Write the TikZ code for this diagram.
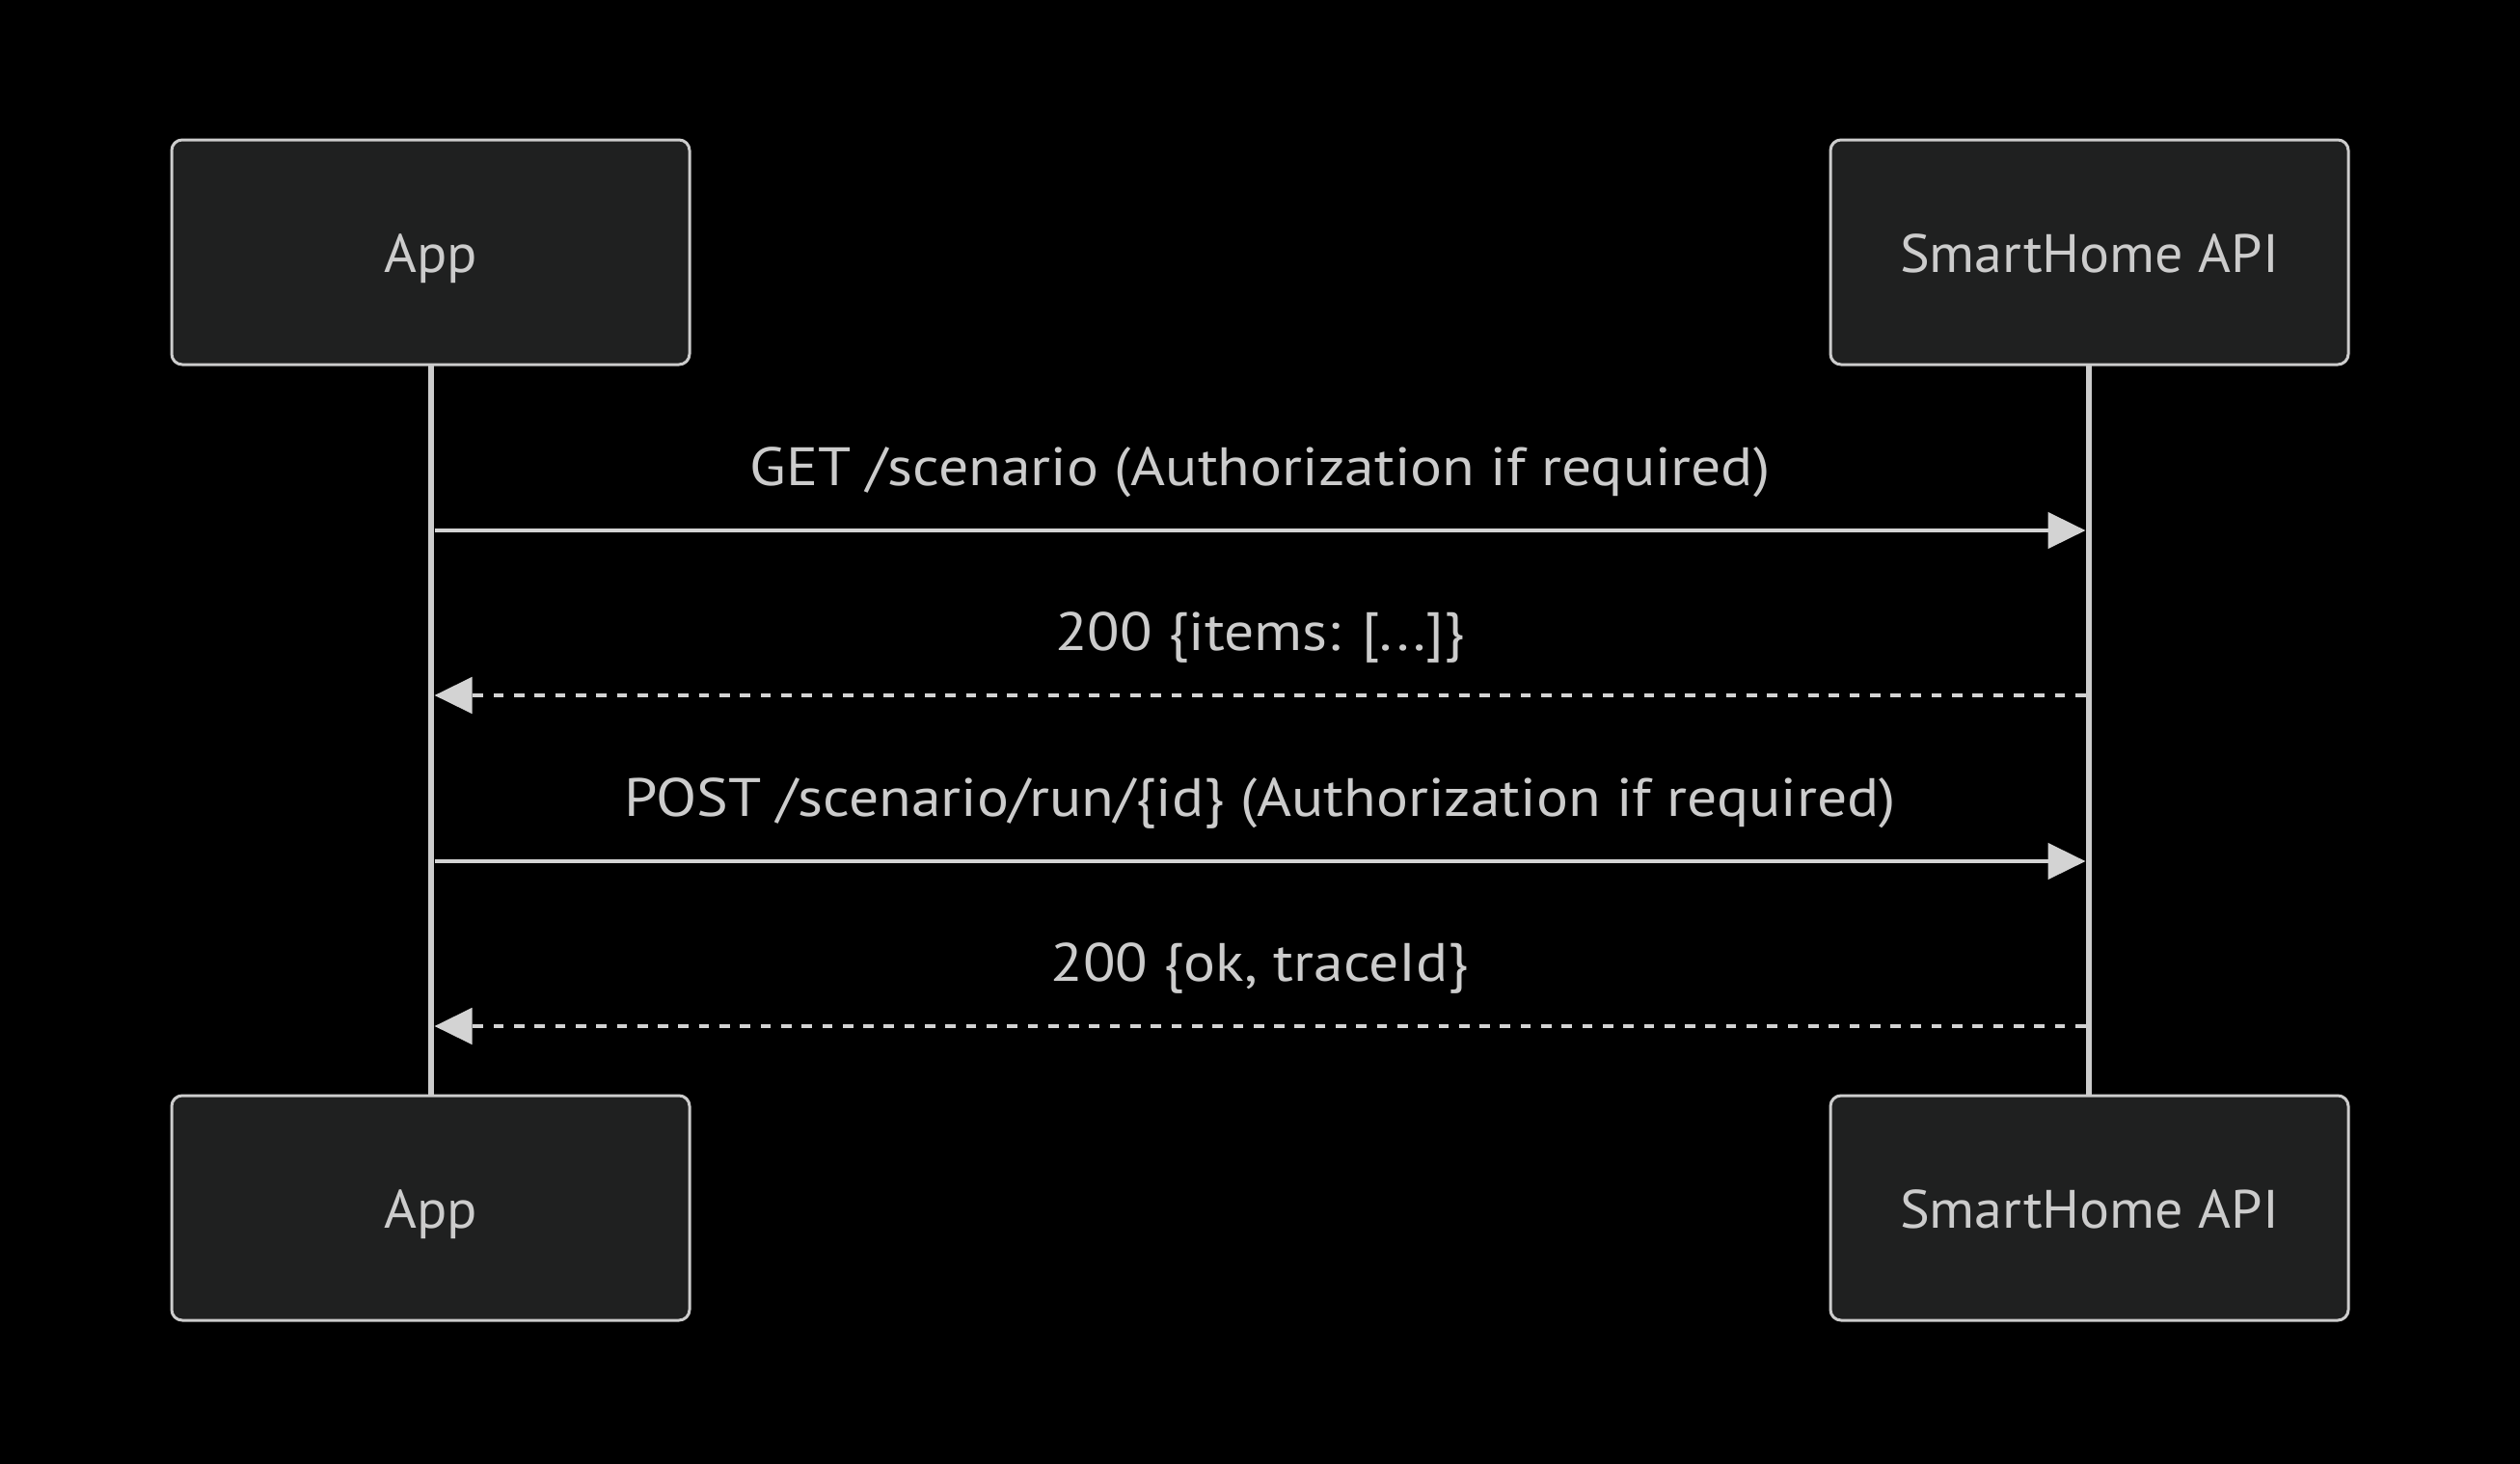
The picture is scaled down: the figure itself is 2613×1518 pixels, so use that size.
\documentclass[tikz,border=0pt]{standalone}
\usepackage{fontspec}
\setmainfont{PT Sans}
\newfontfamily\actorfont{PT Sans}[FakeStretch=1.035]
\newfontfamily\msgfont{PT Sans}[FakeStretch=1.10]
\usetikzlibrary{arrows.meta}
\definecolor{bg}{HTML}{000000}
\definecolor{boxfill}{HTML}{1F2020}
\definecolor{boxline}{HTML}{CCCCCC}
\definecolor{txt}{HTML}{CCCCCC}
\definecolor{msg}{HTML}{D3D3D3}
\tikzset{
  actor/.style={draw=boxline, fill=boxfill, line width=3pt, rounded corners=11pt,
    minimum width=537pt, minimum height=233pt, inner sep=0pt, text=txt,
    text height=54pt, text depth=12pt,
    font=\actorfont\fontsize{56}{67}\selectfont},
  lifeline/.style={draw=boxline, line width=6.5pt},
  msgline/.style={draw=msg, line width=4.7pt, -{Triangle[length=39pt,width=37pt]}},
  reply/.style={msgline, dash pattern=on 10.7pt off 10.6pt},
  msglabel/.style={text=txt, inner sep=0pt, font=\msgfont\fontsize{56}{67}\selectfont, anchor=base}
}
\begin{document}
\begin{tikzpicture}[x=1pt,y=-1pt]
\fill[bg] (0,0) rectangle (2613,1518);
\useasboundingbox (0,0) rectangle (2613,1518);
% lifelines first
\coordinate (appL) at (447,378);
\coordinate (appLb) at (447,1137);
\coordinate (apiL) at (2166,378);
\coordinate (apiLb) at (2166,1137);
\draw[lifeline] (appL) -- (appLb);
\draw[lifeline] (apiL) -- (apiLb);
% actors
\node[actor] (appTop) at (446.5,261.5) {App};
\node[actor] (apiTop) at (2166.5,261.5) {SmartHome API};
\node[actor] (appBot) at (446.5,1252.5) {App};
\node[actor] (apiBot) at (2166.5,1252.5) {SmartHome API};
% message end points
\coordinate (m1s) at (450.5,550);
\coordinate (m1e) at (2162.5,550);
\coordinate (m2s) at (2162.5,721);
\coordinate (m2e) at (450.5,721);
\coordinate (m3s) at (450.5,893);
\coordinate (m3e) at (2162.5,893);
\coordinate (m4s) at (2162.5,1064);
\coordinate (m4e) at (450.5,1064);
\draw[msgline] (m1s) -- (m1e);
\draw[reply] (m2s) -- (m2e);
\draw[msgline] (m3s) -- (m3e);
\draw[reply] (m4s) -- (m4e);
% labels
\node[msglabel] (l1) at (1306.5,503) {GET /scenario (Authorization if required)};
\node[msglabel] (l2) at (1306.5,674) {200 \{items: [...]\}};
\node[msglabel] (l3) at (1306.5,846) {POST /scenario/run/\{id\} (Authorization if required)};
\node[msglabel] (l4) at (1306.5,1017) {200 \{ok, traceId\}};
\end{tikzpicture}
\end{document}
